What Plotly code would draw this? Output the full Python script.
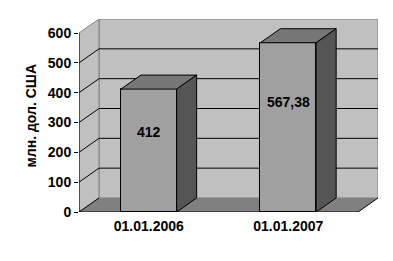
import plotly.graph_objects as go

# ---- data ----
categories = ["01.01.2006", "01.01.2007"]
values = [412, 567.38]
value_labels = ["412", "567,38"]
y_ticks = [0, 100, 200, 300, 400, 500, 600]
y_title = "млн. дол. США"

# ---- geometry / style constants ----
DX = 20 / 139.5      # depth offset in x (category units)
DY = 47              # depth offset in y (value units)
W = 0.4              # bar width
YMAX = y_ticks[-1]
X0, X1 = -0.5, len(categories) - 0.5
FONT = "Liberation Sans, Arial, sans-serif"
WALL = "#c0c0c0"
FLOOR = "#808080"
EDGE = "#808080"
FRONT = "#a0a0a0"
TOP = "#777777"
SIDE = "#555555"
LABEL_POS = 0.65

fig = go.Figure()

shapes = []
# back wall
shapes.append(dict(type="rect", xref="x", yref="y", x0=X0 + DX, x1=X1 + DX, y0=DY, y1=YMAX + DY,
                   fillcolor=WALL, line=dict(color=EDGE, width=1), layer="below"))
# left wall
shapes.append(dict(type="path", xref="x", yref="y",
                   path=f"M {X0},0 L {X0},{YMAX} L {X0 + DX},{YMAX + DY} L {X0 + DX},{DY} Z",
                   fillcolor=WALL, line=dict(color=EDGE, width=1), layer="below"))
# floor
shapes.append(dict(type="path", xref="x", yref="y",
                   path=f"M {X0},0 L {X1},0 L {X1 + DX},{DY} L {X0 + DX},{DY} Z",
                   fillcolor=FLOOR, line=dict(width=0), layer="below"))
# gridlines
for v in y_ticks[1:-1]:
    shapes.append(dict(type="line", xref="x", yref="y", x0=X0 + DX, x1=X1 + DX, y0=v + DY, y1=v + DY,
                       line=dict(color="black", width=1), layer="below"))
for v in y_ticks[:-1]:
    shapes.append(dict(type="line", xref="x", yref="y", x0=X0, x1=X0 + DX, y0=v, y1=v + DY,
                       line=dict(color="black", width=1), layer="below"))
# floor right edge
shapes.append(dict(type="line", xref="x", yref="y", x0=X1, x1=X1 + DX, y0=0, y1=DY,
                   line=dict(color="black", width=1), layer="below"))
# axis lines (front)
shapes.append(dict(type="line", xref="x", yref="y", x0=X0, x1=X0, y0=0, y1=YMAX,
                   line=dict(color="black", width=1), layer="above"))
shapes.append(dict(type="line", xref="x", yref="y", x0=X0, x1=X1, y0=0, y1=0,
                   line=dict(color="black", width=1), layer="above"))
# category boundary tick marks
for k in range(len(categories) + 1):
    shapes.append(dict(type="line", xref="x", yref="y", x0=X0 + k, x1=X0 + k,
                       ysizemode="pixel", yanchor=0, y0=0, y1=-4,
                       line=dict(color="black", width=1), layer="above"))

xs = list(range(len(categories)))

# bar fronts
fig.add_trace(go.Bar(x=xs, y=values, width=W, marker=dict(color=FRONT, line=dict(color="black", width=1)),
                     hoverinfo="skip", showlegend=False))

# bar tops and sides
for i, v in zip(xs, values):
    l, r = i - W / 2, i + W / 2
    fig.add_trace(go.Scatter(x=[l, r, r + DX, l + DX, l], y=[v, v, v + DY, v + DY, v],
                             fill="toself", fillcolor=TOP, mode="lines",
                             line=dict(color="black", width=1), hoverinfo="skip", showlegend=False))
    fig.add_trace(go.Scatter(x=[r, r + DX, r + DX, r, r], y=[0, DY, v + DY, v, 0],
                             fill="toself", fillcolor=SIDE, mode="lines",
                             line=dict(color="black", width=1), hoverinfo="skip", showlegend=False))

annotations = []
for i, v, t in zip(xs, values, value_labels):
    annotations.append(dict(x=i, y=v * LABEL_POS, xref="x", yref="y", text=t, showarrow=False,
                            font=dict(family=FONT, size=14, color="black", weight="bold")))
annotations.append(dict(x=0, y=0.5, xref="paper", yref="paper", xshift=-49, text=y_title,
                        textangle=-90, showarrow=False, xanchor="center", yanchor="middle",
                        font=dict(family=FONT, size=14, color="black", weight="bold")))

fig.update_layout(
    width=393, height=261,
    margin=dict(l=79, r=15, t=19, b=49, pad=0),
    paper_bgcolor="white", plot_bgcolor="white",
    showlegend=False,
    shapes=shapes,
    annotations=annotations,
    xaxis=dict(range=[X0, X1 + DX], tickvals=xs, ticktext=categories, ticks="outside", ticklen=1,
               tickcolor="rgba(0,0,0,0)", showgrid=False, zeroline=False, showline=False,
               tickfont=dict(family=FONT, size=14, color="black", weight="bold"), fixedrange=True),
    yaxis=dict(range=[0, YMAX + DY], tickvals=y_ticks, ticks="outside", ticklen=4, tickcolor="black",
               showgrid=False, zeroline=False, showline=False,
               tickfont=dict(family=FONT, size=14, color="black", weight="bold"), fixedrange=True),
    bargap=0,
)

fig.write_html("out.html")
